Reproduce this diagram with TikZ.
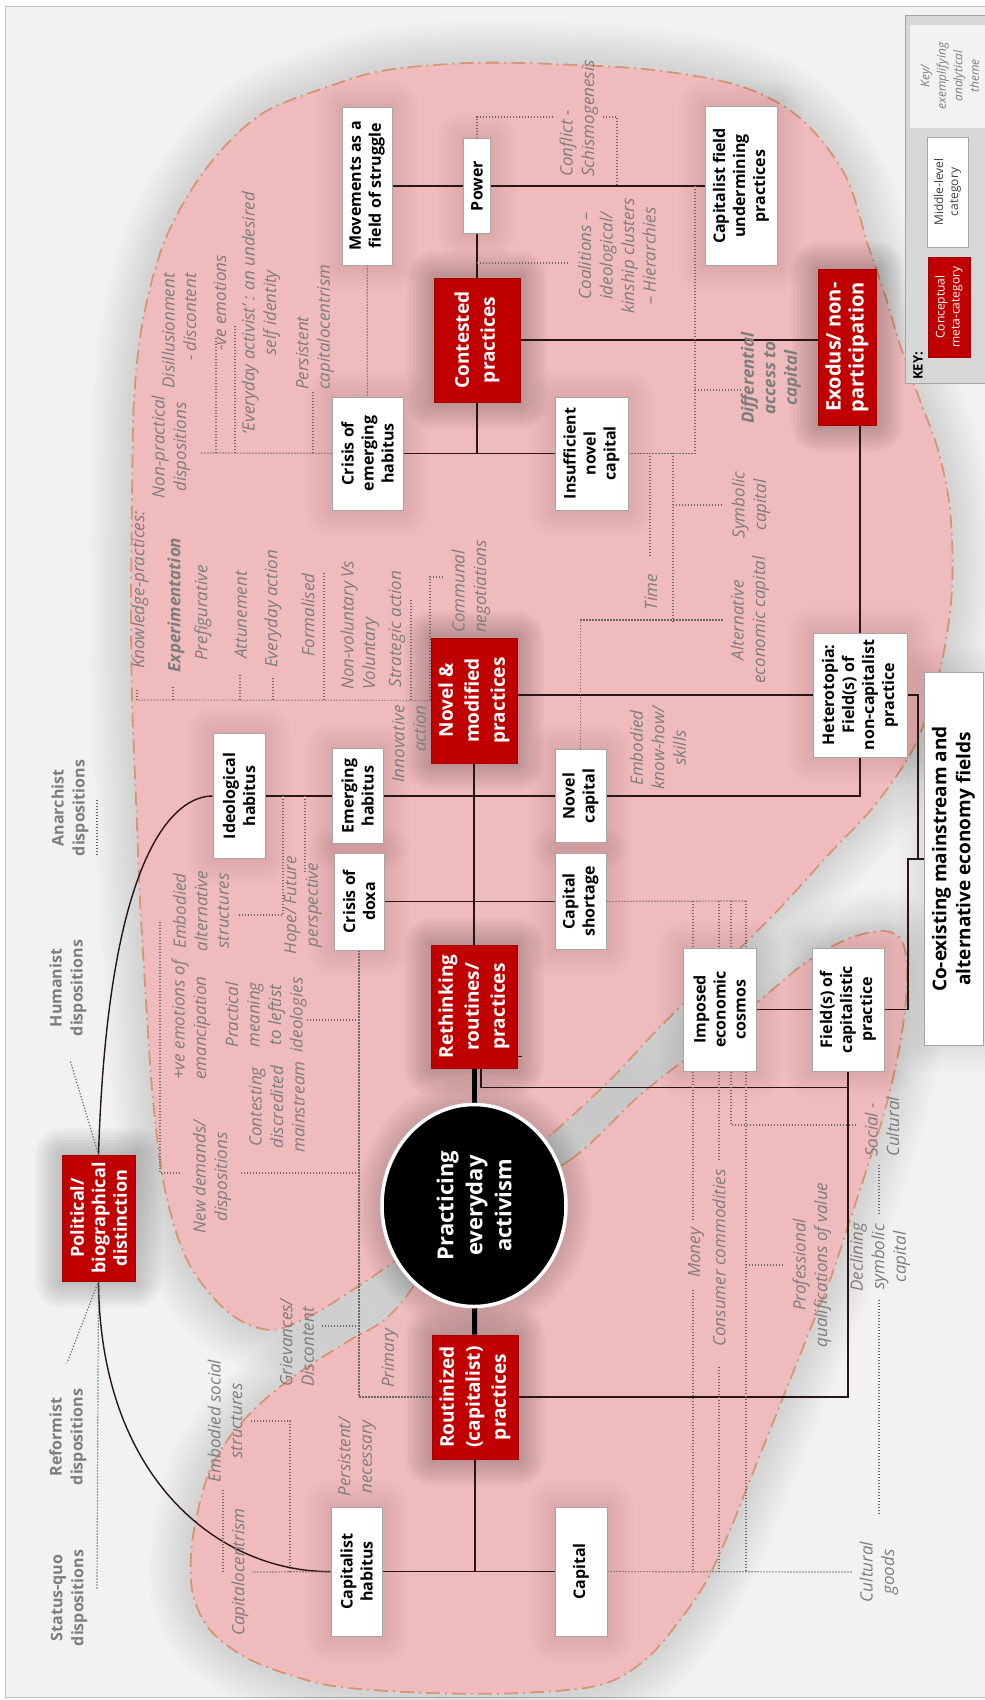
\documentclass[tikz,border=0pt]{standalone}
\usepackage{fontspec}
\setmainfont{Open Sans}
\usetikzlibrary{calc,shapes.geometric}
\definecolor{pinkfill}{RGB}{240,187,189}
\definecolor{blobedge}{RGB}{212,150,115}
\definecolor{concept}{RGB}{192,0,0}
\definecolor{labgray}{RGB}{125,125,125}
\definecolor{dotgray}{RGB}{105,105,105}
\definecolor{boxedge}{RGB}{165,165,165}
\definecolor{framebg}{RGB}{242,242,242}
\definecolor{keybg}{RGB}{215,215,215}
\definecolor{linecol}{RGB}{40,22,22}
\pgfdeclarelayer{bg}
\pgfdeclarelayer{shad}
\pgfdeclarelayer{lines}
\pgfsetlayers{bg,shad,lines,main}
\tikzset{
  wbox/.style={draw=boxedge, line width=0.8pt, fill=white, rotate=90, align=center,
    inner sep=1pt, font=\fontsize{16}{20}\selectfont\bfseries, text=black},
  rbox/.style={draw=concept!85!black, line width=0.6pt, fill=concept, rotate=90, align=center,
    inner sep=1pt, font=\fontsize{19}{26}\selectfont\bfseries, text=white},
  lab/.style={rotate=90, align=center, inner sep=0pt,
    font=\fontsize{17}{21.5}\selectfont\itshape, text=labgray},
  blab/.style={lab, font=\fontsize{17}{21.5}\selectfont\bfseries\itshape},
  disp/.style={rotate=90, align=center, inner sep=0pt,
    font=\fontsize{16}{21}\selectfont\bfseries, text=labgray},
  conn/.style={draw=linecol, line width=1.4pt},
  spine/.style={draw=black, line width=5pt},
  dotline/.style={draw=dotgray, line width=1.2pt, dash pattern=on 1.2pt off 1.8pt},
}
% soft shadow behind a box: centre x, centre y, vertical extent, horizontal extent, strength
\newcommand{\halo}[5]{%
  \begin{pgfonlayer}{shad}
    \pgfmathsetmacro{\haloop}{#5*0.018}%
    \foreach \s/\r in {27/27pt,24/24pt,21/21pt,18/18pt,15/15pt,12/12pt,9/9pt,6/6pt,3/3pt}{%
      \fill[black, opacity=\haloop, rounded corners=\r]
        ({#1-#4/2-\s},{#2-#3/2-\s}) rectangle ({#1+#4/2+\s},{#2+#3/2+\s});}
  \end{pgfonlayer}}
\newcommand{\wnode}[6]{\halo{#2}{#3}{#4}{#5}{0.5}%
  \node[wbox, minimum width=#4, minimum height=#5] (#1) at (#2,#3) {#6};}
\newcommand{\rnode}[6]{\halo{#2}{#3}{#4}{#5}{1.3}%
  \node[rbox, minimum width=#4, minimum height=#5] (#1) at (#2,#3) {#6};}

\begin{document}
\begin{tikzpicture}[x=1pt, y=-1pt]
\useasboundingbox (0,0) rectangle (985,1700);

% ---------- background, frame and the two pink regions ----------
\begin{pgfonlayer}{bg}
  \fill[white] (0,0) rectangle (985,1700);
  \fill[framebg] (5,6) rectangle (995,1697);
  \draw[boxedge!70, line width=1pt] (5,6) rectangle (995,1697);
  \path[save path=\blobup] plot[smooth cycle, tension=0.55] coordinates {
    (480,1195) (553,1133) (610,1080) (660,1027) (720,968) (780,908) (830,853)
    (875,805) (915,745) (940,670) (952,590) (950,510) (938,450) (918,395)
    (900,345) (885,295) (868,245) (845,175) (800,118) (740,86) (653,70)
    (553,64) (470,63) (387,70) (333,85) (260,115) (205,170) (165,240)
    (143,320) (134,400) (132,500) (131,600) (132,700) (136,800) (140,900)
    (146,1000) (153,1100) (165,1190) (188,1262) (228,1312) (270,1330)
    (310,1316) (345,1295) (385,1268) (430,1235)};
  \path[save path=\bloblow] plot[smooth cycle, tension=0.55] coordinates {
    (470,1215) (570,1160) (640,1095) (700,1048) (760,1000) (805,963)
    (845,940) (880,931) (900,938) (907,965) (905,1010) (897,1060) (885,1110)
    (868,1165) (850,1220) (830,1280) (810,1330) (790,1380) (770,1430)
    (750,1480) (730,1530) (707,1580) (680,1620) (645,1660) (600,1685)
    (520,1693) (430,1693) (340,1687) (290,1675) (245,1657) (210,1630)
    (193,1595) (191,1555) (197,1515) (210,1470) (235,1430) (270,1395)
    (310,1365) (350,1340) (395,1310)};
  \foreach \w in {84pt,76pt,68pt,60pt,52pt,44pt,36pt,28pt,20pt,12pt}{
    \path[use path=\blobup, draw=black, draw opacity=0.011, line width=\w];
    \path[use path=\bloblow, draw=black, draw opacity=0.011, line width=\w];
  }
  \path[use path=\blobup, fill=pinkfill];
  \path[use path=\bloblow, fill=pinkfill];
  \path[use path=\blobup, draw=blobedge, line width=1.8pt,
        dash pattern=on 14pt off 5pt on 2pt off 5pt];
  \path[use path=\bloblow, draw=blobedge, line width=1.8pt,
        dash pattern=on 14pt off 5pt on 2pt off 5pt];
\end{pgfonlayer}

% ---------- key ----------
\fill[keybg] (905,15) rectangle (995,383);
\draw[boxedge, line width=0.8pt] (905,15) rectangle (995,383);
\fill[framebg] (910,25) rectangle (995,128);
\node[lab, font=\fontsize{12}{16.5}\selectfont\itshape] (keytheme) at (950,76)
  {Key/\\exemplifying\\analytical\\theme};
\node[wbox, font=\fontsize{12}{15}\selectfont, text=black!75, minimum width=110,
  minimum height=41] (keymid) at (947.5,192) {Middle-level\\category};
\node[rbox, font=\fontsize{12}{15}\selectfont, minimum width=100, minimum height=42]
  (keymeta) at (949,307) {Conceptual\\meta-category};
\node[rotate=90, inner sep=0pt, font=\fontsize{13}{15}\selectfont\bfseries] (keyhead)
  at (918,366) {KEY:};

% ---------- middle-level categories ----------
\wnode{caphab}{356.5}{1571.5}{129}{51}{Capitalist\\habitus}
\wnode{capital}{581}{1571.5}{129}{52}{Capital}
\wnode{idhab}{239}{796}{125}{52}{Ideological\\habitus}
\wnode{emhab}{357.5}{796}{95}{51}{Emerging\\habitus}
\wnode{novcap}{580.5}{796}{93}{51}{Novel\\capital}
\wnode{crdoxa}{359}{901.5}{97}{50}{Crisis of\\doxa}
\wnode{capshort}{580.5}{901.5}{96}{51}{Capital\\shortage}
\wnode{crem}{367.5}{453.5}{113}{71}{Crisis of\\emerging\\habitus}
\wnode{insuff}{591.5}{453.5}{113}{73}{Insufficient\\novel\\capital}
\wnode{movements}{367}{186}{158}{50}{Movements as a\\field of struggle}
\wnode{power}{477}{186}{95}{27}{Power}
\wnode{capfield}{741}{186}{159}{72}{Capitalist field\\undermining\\practices}
\wnode{hetero}{860}{695}{124}{94}{Heterotopia:\\Field(s) of\\non-capitalist\\practice}
\wnode{imposed}{719.5}{1009.5}{123}{73}{Imposed\\economic\\cosmos}
\wnode{fieldcap}{848}{1009.5}{123}{72}{Field(s) of\\capitalistic\\practice}
\halo{953.5}{859}{373}{59}{0.5}
\node[wbox, font=\fontsize{19}{24}\selectfont\bfseries, minimum width=373,
  minimum height=59] (coexist) at (953.5,859)
  {Co-existing mainstream and\\alternative economy fields};

% ---------- conceptual meta-categories ----------
\rnode{routin}{475}{1397}{124}{86}{Routinized\\(capitalist)\\practices}
\rnode{rethink}{474}{1006.5}{123}{86}{Rethinking\\routines/\\practices}
\rnode{novel}{474}{700.5}{125}{86}{Novel \&\\modified\\practices}
\rnode{contested}{477}{340}{124}{86}{Contested\\practices}
\halo{847}{347}{156}{58}{1.3}
\node[rbox, font=\fontsize{20}{23}\selectfont\bfseries, minimum width=156,
  minimum height=58] (exodus) at (847,347) {Exodus/ non-\\participation};
\halo{98.5}{1218}{126}{73}{1.3}
\node[rbox, font=\fontsize{18}{21.5}\selectfont\bfseries, minimum width=126,
  minimum height=73] (political) at (98.5,1218) {Political/\\biographical\\distinction};

% ---------- central circle ----------
\begin{pgfonlayer}{shad}
  \foreach \s in {24,20,16,12,8,4}{
    \fill[black, opacity=0.022] (474,1205.5) ellipse [x radius=94+\s, y radius=103+\s];}
\end{pgfonlayer}
\node[ellipse, fill=black, draw=white, line width=3.5pt, minimum width=202,
  minimum height=184, rotate=90, text=white, align=center, inner sep=0pt,
  font=\fontsize{22}{29}\selectfont\bfseries] (circ) at (474,1205.5)
  {Practicing\\everyday\\activism};

% ---------- dispositions ----------
\node[disp] (dstatus) at (69,1598) {Status-quo\\dispositions};
\node[disp] (dreform) at (68,1437) {Reformist\\dispositions};
\node[disp] (dhuman) at (68,988) {Humanist\\dispositions};
\node[disp] (danarch) at (70,808) {Anarchist\\dispositions};

% ---------- analytical themes ----------
\node[lab] (nonprac) at (171,447) {Non-practical\\dispositions};
\node[lab, anchor=east, align=right] (disill) at (179,273) {Disillusionment\\- discontent};
\node[lab] (veemo) at (220,303) {-ve emotions};
\node[lab] (evact) at (261,313) {‘Everyday activist’ : an undesired\\self identity};
\node[lab, anchor=west, align=left] (perscap) at (315,390) {Persistent\\capitalocentrism};
\node[lab] (know) at (140,590) {Knowledge-practices:};
\node[blab] (exper) at (176,605) {Experimentation};
\node[lab] (prefig) at (203,613) {Prefigurative};
\node[lab] (attun) at (241,615) {Attunement};
\node[lab] (evaction) at (273,609) {Everyday action};
\node[lab] (formal) at (308,615) {Formalised};
\node[lab, anchor=west, align=left] (nonvol) at (360,690) {Non-voluntary Vs\\Voluntary};
\node[lab] (strat) at (397,629) {Strategic action};
\node[lab, anchor=east, align=right] (innov) at (409,705) {Innovative\\action};
\node[lab, anchor=west, align=left] (communal) at (471,633) {Communal\\negotiations};
\node[lab, anchor=west, align=left] (conflict) at (579,177) {Conflict -\\Schismogenesis};
\node[lab] (coal) at (617,256) {Coalitions –\\ideological/\\kinship clusters\\– Hierarchies};
\node[blab] (diff) at (771,378) {Differential\\access to\\capital};
\node[lab] (time) at (651,592) {Time};
\node[lab] (symb) at (751,505) {Symbolic\\capital};
\node[lab] (altec) at (750,620) {Alternative\\economic capital};
\node[lab] (embkh) at (658,748) {Embodied\\know-how/\\skills};
\node[lab, anchor=west, align=left] (veemanc) at (191,1080) {+ve emotions of\\emancipation};
\node[lab] (embalt) at (201,911) {Embodied\\alternative\\structures};
\node[lab] (newdem) at (212,1177) {New demands/\\dispositions};
\node[lab] (practical) at (266,1015) {Practical\\meaning\\to leftist\\ideologies};
\node[lab] (contesting) at (277,1107) {Contesting\\discredited\\mainstream};
\node[lab] (hope) at (303,905) {Hope/ Future\\perspective};
\node[lab, anchor=west, align=left] (griev) at (297,1387) {Grievances/\\Discontent};
\node[lab] (primary) at (390,1358) {Primary};
\node[lab] (persnec) at (357,1457) {Persistent/\\necessary};
\node[lab] (embsoc) at (225,1421) {Embodied social\\structures};
\node[lab] (capcent) at (240,1572) {Capitalocentrism};
\node[lab] (money) at (696,1253) {Money};
\node[lab] (consumer) at (719,1258) {Consumer commodities};
\node[lab] (prof) at (812,1265) {Professional\\qualifications of value};
\node[lab, anchor=west, align=left] (social) at (882,1157) {Social -\\Cultural};
\node[lab] (declin) at (880,1257) {Declining\\symbolic\\capital};
\node[lab] (cultgoods) at (879,1572) {Cultural\\goods};

\coordinate (cj) at (918,859);
\coordinate (cjl) at (908,859);

% ---------- connectors ----------
\begin{pgfonlayer}{lines}
  % solid links between categories
  \draw[conn] (caphab) -- (capital);
  \draw[conn] (routin) -- (routin |- caphab);
  \draw[conn] (routin) -| (fieldcap);
  \draw[conn] ($(rethink.center)+(7,0)$) |- ($(fieldcap.center)+(0,78)$);
  \draw[conn] ($(rethink.center)+(43,50)$) -- ++(5,0);
  \draw[conn] (idhab) -- (novcap);
  \draw[conn] (crdoxa) -- (capshort);
  \draw[conn] (novel) -- (rethink);
  \draw[conn] (imposed) -- (fieldcap);
  \draw[conn] (fieldcap) -| (cjl) -- (coexist);
  \draw[conn] (hetero) -| (cj);
  \draw[conn] (novel.center |- hetero) -- (hetero);
  \draw[conn] (novcap) -| (hetero);
  \draw[conn] (hetero.center |- exodus) -- (hetero);
  \draw[conn] (contested) -- (contested -| exodus);
  \draw[conn] (crem) -- (insuff);
  \draw[conn] (contested) -- (contested |- crem);
  \draw[conn] (power) -- (contested);
  \draw[conn] (movements) -- (capfield);
  \draw[spine] (rethink) -- (circ);
  \draw[spine] (circ) -- (routin);
  \draw[conn] (political.east) .. controls (108,850) and (175,796) .. (idhab);
  \draw[conn] (political.west) .. controls (100,1480) and (220,1572) .. (caphab);

  % dotted links to dispositions
  \draw[dotline] (political.west) -- (97,1590);
  \draw[dotline] (political.west) -- (67,1363);
  \draw[dotline] (political.east) -- (70,1060);
  \draw[dotline] (97,800) -- (97,856);

  % dotted links to analytical themes
  \draw[dotline] (movements) -- (crem);
  \draw[dotline] (crem) -- (200,453);
  \draw[dotline] (216,453) -- (216,337);
  \draw[dotline] (235,453) -- (235,325);
  \draw[dotline] (313,453) -- (313,392);
  \draw[dotline] (insuff) -| (695,186);
  \draw[dotline] (695,390) -- (742,390);
  \draw[dotline] (650,453) -- (650,557);
  \draw[dotline] (673,453) -- (673,622);
  \draw[dotline] (673,505) -- (723,505);
  \draw[dotline] (novcap) |- (723,620);
  \draw[dotline] (power) |- (553,117);
  \draw[dotline] (603,117) -- (617,117) -- (617,186);
  \draw[dotline] (477,263) -- (568,263);

  \draw[dotline] (novel) -- (137,700);
  \draw[dotline] (137,700) -- (137,690);
  \draw[dotline] (173,700) -- (173,687);
  \draw[dotline] (240,700) -- (240,673);
  \draw[dotline] (273,700) -- (273,677);
  \draw[dotline] (324,700) -- (324,572);
  \draw[dotline] (411,700) -- (411,598);
  \draw[dotline] (430,700) -- (430,577) -- (443,577);

  \draw[dotline] (283,796) -- (283,915) -- (238,915);
  \draw[dotline] (305,796) -- (305,873);

  \draw[dotline] (crdoxa) -- (crdoxa |- routin) -- (routin);
  \draw[dotline] (359,1020) -- (305,1020);
  \draw[dotline] (359,1173) -- (240,1173);
  \draw[dotline] (180,1173) -- (160,1173) -- (160,922);
  \draw[dotline] (359,1326) -- (322,1326);

  \draw[dotline] (capshort) -- (746,901);
  \draw[dotline] (693,901) -- (693,1220);
  \draw[dotline] (693,1290) -- (693,1572);
  \draw[dotline] (719,901) -- (719,1160);
  \draw[dotline] (719,1367) -- (719,1572);
  \draw[dotline] (731,901) -- (731,1125) -- (857,1125);
  \draw[dotline] (746,901) -- (746,1572);
  \draw[dotline] (746,1265) -- (785,1265);
  \draw[dotline] (capital) -- (853,1572);
  \draw[dotline] (879,1165) -- (879,1215);
  \draw[dotline] (879,1300) -- (879,1515);

  \draw[dotline] (caphab) -- (252,1572);
  \draw[dotline] (290,1572) -- (290,1421) -- (250,1421);
  \draw[dotline] (223,1572) -- (223,1490);
\end{pgfonlayer}
\end{tikzpicture}
\end{document}
